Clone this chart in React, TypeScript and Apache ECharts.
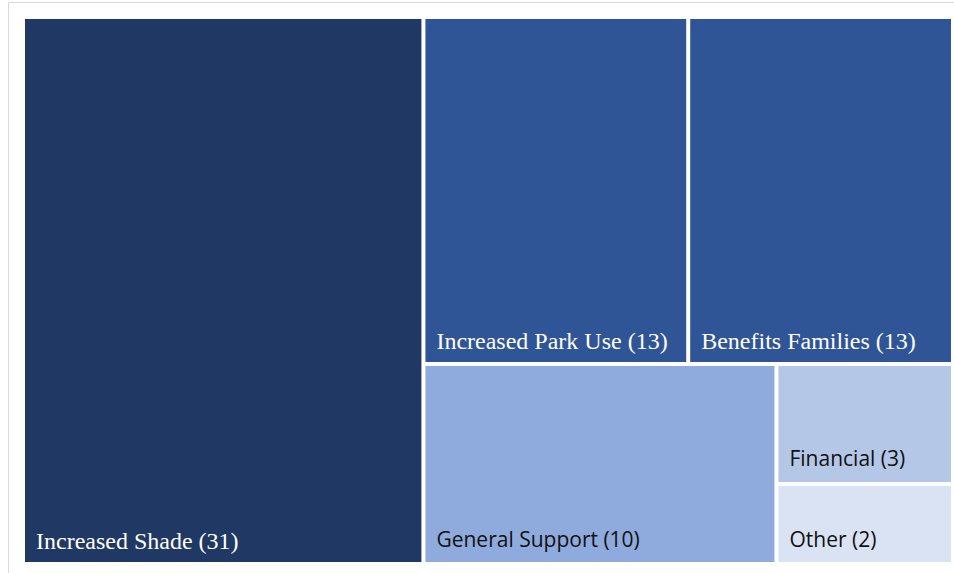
import React, { useEffect, useRef } from "react";
import * as echarts from "echarts";

const categories = ["Increased Shade", "Increased Park Use", "Benefits Families", "General Support", "Financial", "Other"];
const values = [31, 13, 13, 10, 3, 2];
const colors = ["#203864", "#2f5597", "#2f5597", "#8faadc", "#b4c7e7", "#dae3f3"];
const serifFlags = [true, true, true, false, false, false];

export default function App() {
  const ref = useRef<HTMLDivElement>(null);
  useEffect(() => {
    const chart = echarts.init(ref.current!, undefined, { renderer: "svg" });
    const data = categories.map((name, i) => ({
      name,
      value: values[i],
      itemStyle: { color: colors[i] },
      label: serifFlags[i]
        ? {
            fontFamily: "'Liberation Serif', serif",
            fontSize: 24,
            color: "#ffffff",
            offset: [-2, 4],
          }
        : {
            fontFamily: "'Open Sans', sans-serif",
            fontSize: 21,
            color: "#111111",
            offset: [-2, 0],
          },
    }));
    chart.setOption({
      animation: false,
      backgroundColor: "#ffffff",
      graphic: [
        {
          type: "rect",
          shape: { x: 8.5, y: 2.5, width: 1000, height: 700 },
          style: { fill: "none", stroke: "#d9d9d9", lineWidth: 1 },
          silent: true,
          z: -1,
        },
      ],
      series: [
        {
          type: "treemap",
          left: 25,
          top: 19,
          width: 926,
          height: 543,
          roam: false,
          nodeClick: false,
          sort: false,
          breadcrumb: { show: false },
          squareRatio: 1,
          levels: [
            { itemStyle: { gapWidth: 4, borderWidth: 0, borderColor: "#ffffff" } },
            { itemStyle: { borderWidth: 0, gapWidth: 0 } },
          ],
          label: {
            show: true,
            position: "insideBottomLeft",
            distance: 8,
            formatter: (p: any) => `${p.name} (${p.value})`,
          },
          data,
        },
      ],
    });
    return () => chart.dispose();
  }, []);
  return (
    <div
      ref={ref}
      style={{ position: "absolute", left: 0, top: 0, width: 954, height: 573 }}
    />
  );
}
